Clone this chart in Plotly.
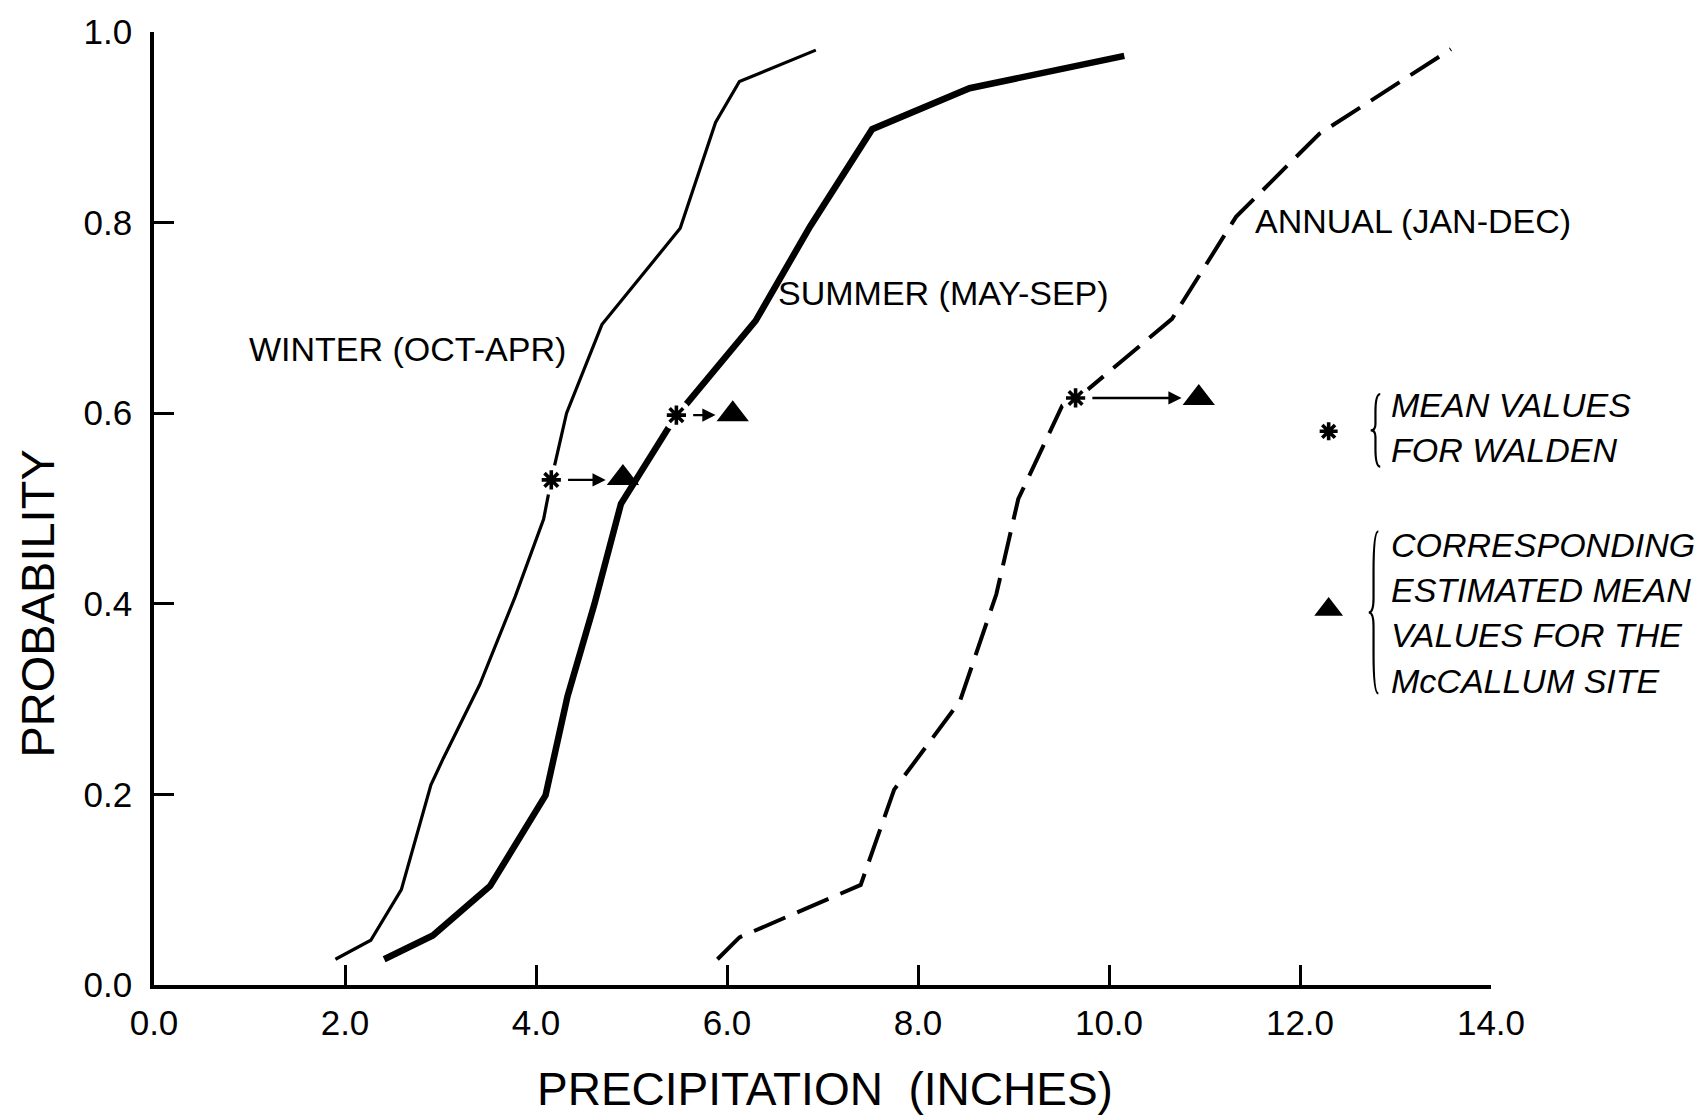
import plotly.graph_objects as go

# Cumulative probability curves of seasonal precipitation (inches)
winter_x = [1.90, 2.27, 2.59, 2.90, 3.03, 3.41, 3.78, 4.08, 4.16, 4.32, 4.69, 5.51, 5.88, 6.13, 6.93]
winter_y = [0.027, 0.047, 0.100, 0.210, 0.238, 0.315, 0.407, 0.489, 0.530, 0.600, 0.693, 0.794, 0.905, 0.948, 0.981]

summer_x = [2.41, 2.92, 3.52, 4.10, 4.33, 4.61, 4.89, 5.47, 5.57, 6.30, 6.87, 7.52, 8.54, 10.16]
summer_y = [0.027, 0.052, 0.104, 0.199, 0.303, 0.399, 0.505, 0.598, 0.609, 0.697, 0.796, 0.898, 0.941, 0.975]

annual_x = [5.90, 6.13, 7.40, 7.75, 8.44, 8.82, 9.05, 9.51, 9.65, 9.78, 10.66, 11.33, 12.20, 13.58]
annual_y = [0.027, 0.050, 0.105, 0.205, 0.298, 0.410, 0.510, 0.608, 0.616, 0.625, 0.699, 0.806, 0.893, 0.982]

# Mean values for Walden (asterisks) and estimated means for the McCallum site (triangles)
walden_x = [4.16, 5.47, 9.65]
walden_y = [0.530, 0.598, 0.616]
mccallum_x = [4.91, 6.06, 10.94]
mccallum_y = [0.532, 0.599, 0.616]

x_ticks = [0, 2, 4, 6, 8, 10, 12, 14]
x_tick_text = ["0.0", "2.0", "4.0", "6.0", "8.0", "10.0", "12.0", "14.0"]
y_ticks = [0.0, 0.2, 0.4, 0.6, 0.8, 1.0]
y_tick_text = ["0.0", "0.2", "0.4", "0.6", "0.8", "1.0"]

curve_labels = ["WINTER (OCT-APR)", "SUMMER (MAY-SEP)", "ANNUAL (JAN-DEC)"]
curve_label_x = [2.65, 8.27, 13.18]
curve_label_y = [0.667, 0.726, 0.802]

legend_walden = ["MEAN VALUES", "FOR WALDEN"]
legend_mccallum = ["CORRESPONDING", "ESTIMATED MEAN", "VALUES FOR THE", "McCALLUM SITE"]

FONT = "Liberation Sans"
INK = "black"

fig = go.Figure()

fig.add_trace(go.Scatter(x=winter_x, y=winter_y, mode="lines",
                         line=dict(color=INK, width=3.2), hoverinfo="skip"))
fig.add_trace(go.Scatter(x=summer_x, y=summer_y, mode="lines",
                         line=dict(color=INK, width=6.5), hoverinfo="skip"))
fig.add_trace(go.Scatter(x=annual_x, y=annual_y, mode="lines",
                         line=dict(color=INK, width=4, dash="34px,13px"), hoverinfo="skip"))

# white halo that breaks each curve around its asterisk
fig.add_trace(go.Scatter(x=walden_x, y=walden_y, mode="markers",
                         marker=dict(symbol="circle", size=30, color="white",
                                     line=dict(width=0)), hoverinfo="skip"))
fig.add_trace(go.Scatter(x=walden_x, y=walden_y, mode="markers",
                         marker=dict(symbol="asterisk-open", size=16, color=INK,
                                     line=dict(color=INK, width=3.6)), hoverinfo="skip"))
fig.add_trace(go.Scatter(x=mccallum_x, y=mccallum_y, mode="markers",
                         marker=dict(symbol="triangle-up", size=28, color=INK,
                                     line=dict(width=0)), hoverinfo="skip"))

# key symbols
key_x = 12.30
fig.add_trace(go.Scatter(x=[key_x], y=[0.581], mode="markers",
                         marker=dict(symbol="asterisk-open", size=15, color=INK,
                                     line=dict(color=INK, width=3.6)), hoverinfo="skip"))
fig.add_trace(go.Scatter(x=[key_x], y=[0.394], mode="markers",
                         marker=dict(symbol="triangle-up", size=25, color=INK,
                                     line=dict(width=0)), hoverinfo="skip"))

annotations = []

# arrows from each Walden mean to the McCallum estimate
for wx, wy, mx in zip(walden_x, walden_y, mccallum_x):
    annotations.append(dict(x=mx - 0.18, y=wy, ax=wx + 0.16, ay=wy,
                            xref="x", yref="y", axref="x", ayref="y",
                            text="", showarrow=True, arrowhead=2, arrowsize=1.1,
                            arrowwidth=2.4, arrowcolor=INK, standoff=0, startstandoff=0))

for txt, lx, ly in zip(curve_labels, curve_label_x, curve_label_y):
    annotations.append(dict(x=lx, y=ly, xref="x", yref="y", text=txt, showarrow=False,
                            xanchor="center", yanchor="middle",
                            font=dict(family=FONT, size=34, color=INK)))

key_text_x = 12.93
walden_rows = [0.609, 0.561]
mccallum_rows = [0.462, 0.414, 0.367, 0.319]
for txt, ly in zip(legend_walden + legend_mccallum, walden_rows + mccallum_rows):
    annotations.append(dict(x=key_text_x, y=ly, xref="x", yref="y", text=txt,
                            showarrow=False, xanchor="left", yanchor="middle",
                            font=dict(family=FONT, size=34, color=INK, style="italic")))

# axis titles
annotations.append(dict(x=7.03, y=-0.1385, xref="x", yref="paper",
                        text="PRECIPITATION\u00a0\u00a0(INCHES)", showarrow=False,
                        xanchor="center", yanchor="bottom",
                        font=dict(family=FONT, size=46, color=INK)))
annotations.append(dict(x=-0.087, y=0.40, xref="paper", yref="y",
                        text="PROBABILITY", showarrow=False, textangle=-90,
                        xanchor="center", yanchor="middle",
                        font=dict(family=FONT, size=47, color=INK)))


def brace_path(xc, y_top, y_bot, w):
    """Left-opening curly brace '{' in data coordinates."""
    ym = (y_top + y_bot) / 2
    q = (y_top - y_bot) / 4
    return (f"M {xc + w},{y_top} Q {xc},{y_top} {xc},{y_top - q} "
            f"L {xc},{ym + q * 0.35} Q {xc},{ym} {xc - w},{ym} "
            f"Q {xc},{ym} {xc},{ym - q * 0.35} "
            f"L {xc},{y_bot + q} Q {xc},{y_bot} {xc + w},{y_bot}")


shapes = [
    dict(type="path", xref="x", yref="y", path=brace_path(12.79, 0.620, 0.544, 0.05),
         line=dict(color=INK, width=2.2)),
    dict(type="path", xref="x", yref="y", path=brace_path(12.77, 0.476, 0.306, 0.05),
         line=dict(color=INK, width=2.2)),
]

axis_common = dict(showline=True, linecolor=INK, linewidth=3.5, showgrid=False,
                   zeroline=False, ticks="inside", ticklen=20, tickwidth=2.5,
                   tickcolor=INK, mirror=False,
                   tickfont=dict(family=FONT, size=35, color=INK))

fig.update_layout(
    width=1700, height=1118,
    margin=dict(l=154, r=209, t=26, b=133),
    paper_bgcolor="white", plot_bgcolor="white",
    showlegend=False,
    xaxis=dict(range=[0, 14], tickvals=x_ticks, ticktext=x_tick_text,
               ticklabelstandoff=4, **axis_common),
    yaxis=dict(range=[0, 1], tickvals=y_ticks, ticktext=y_tick_text,
               ticklabelstandoff=11, **axis_common),
    annotations=annotations,
    shapes=shapes,
)

fig.write_html("out.html")
